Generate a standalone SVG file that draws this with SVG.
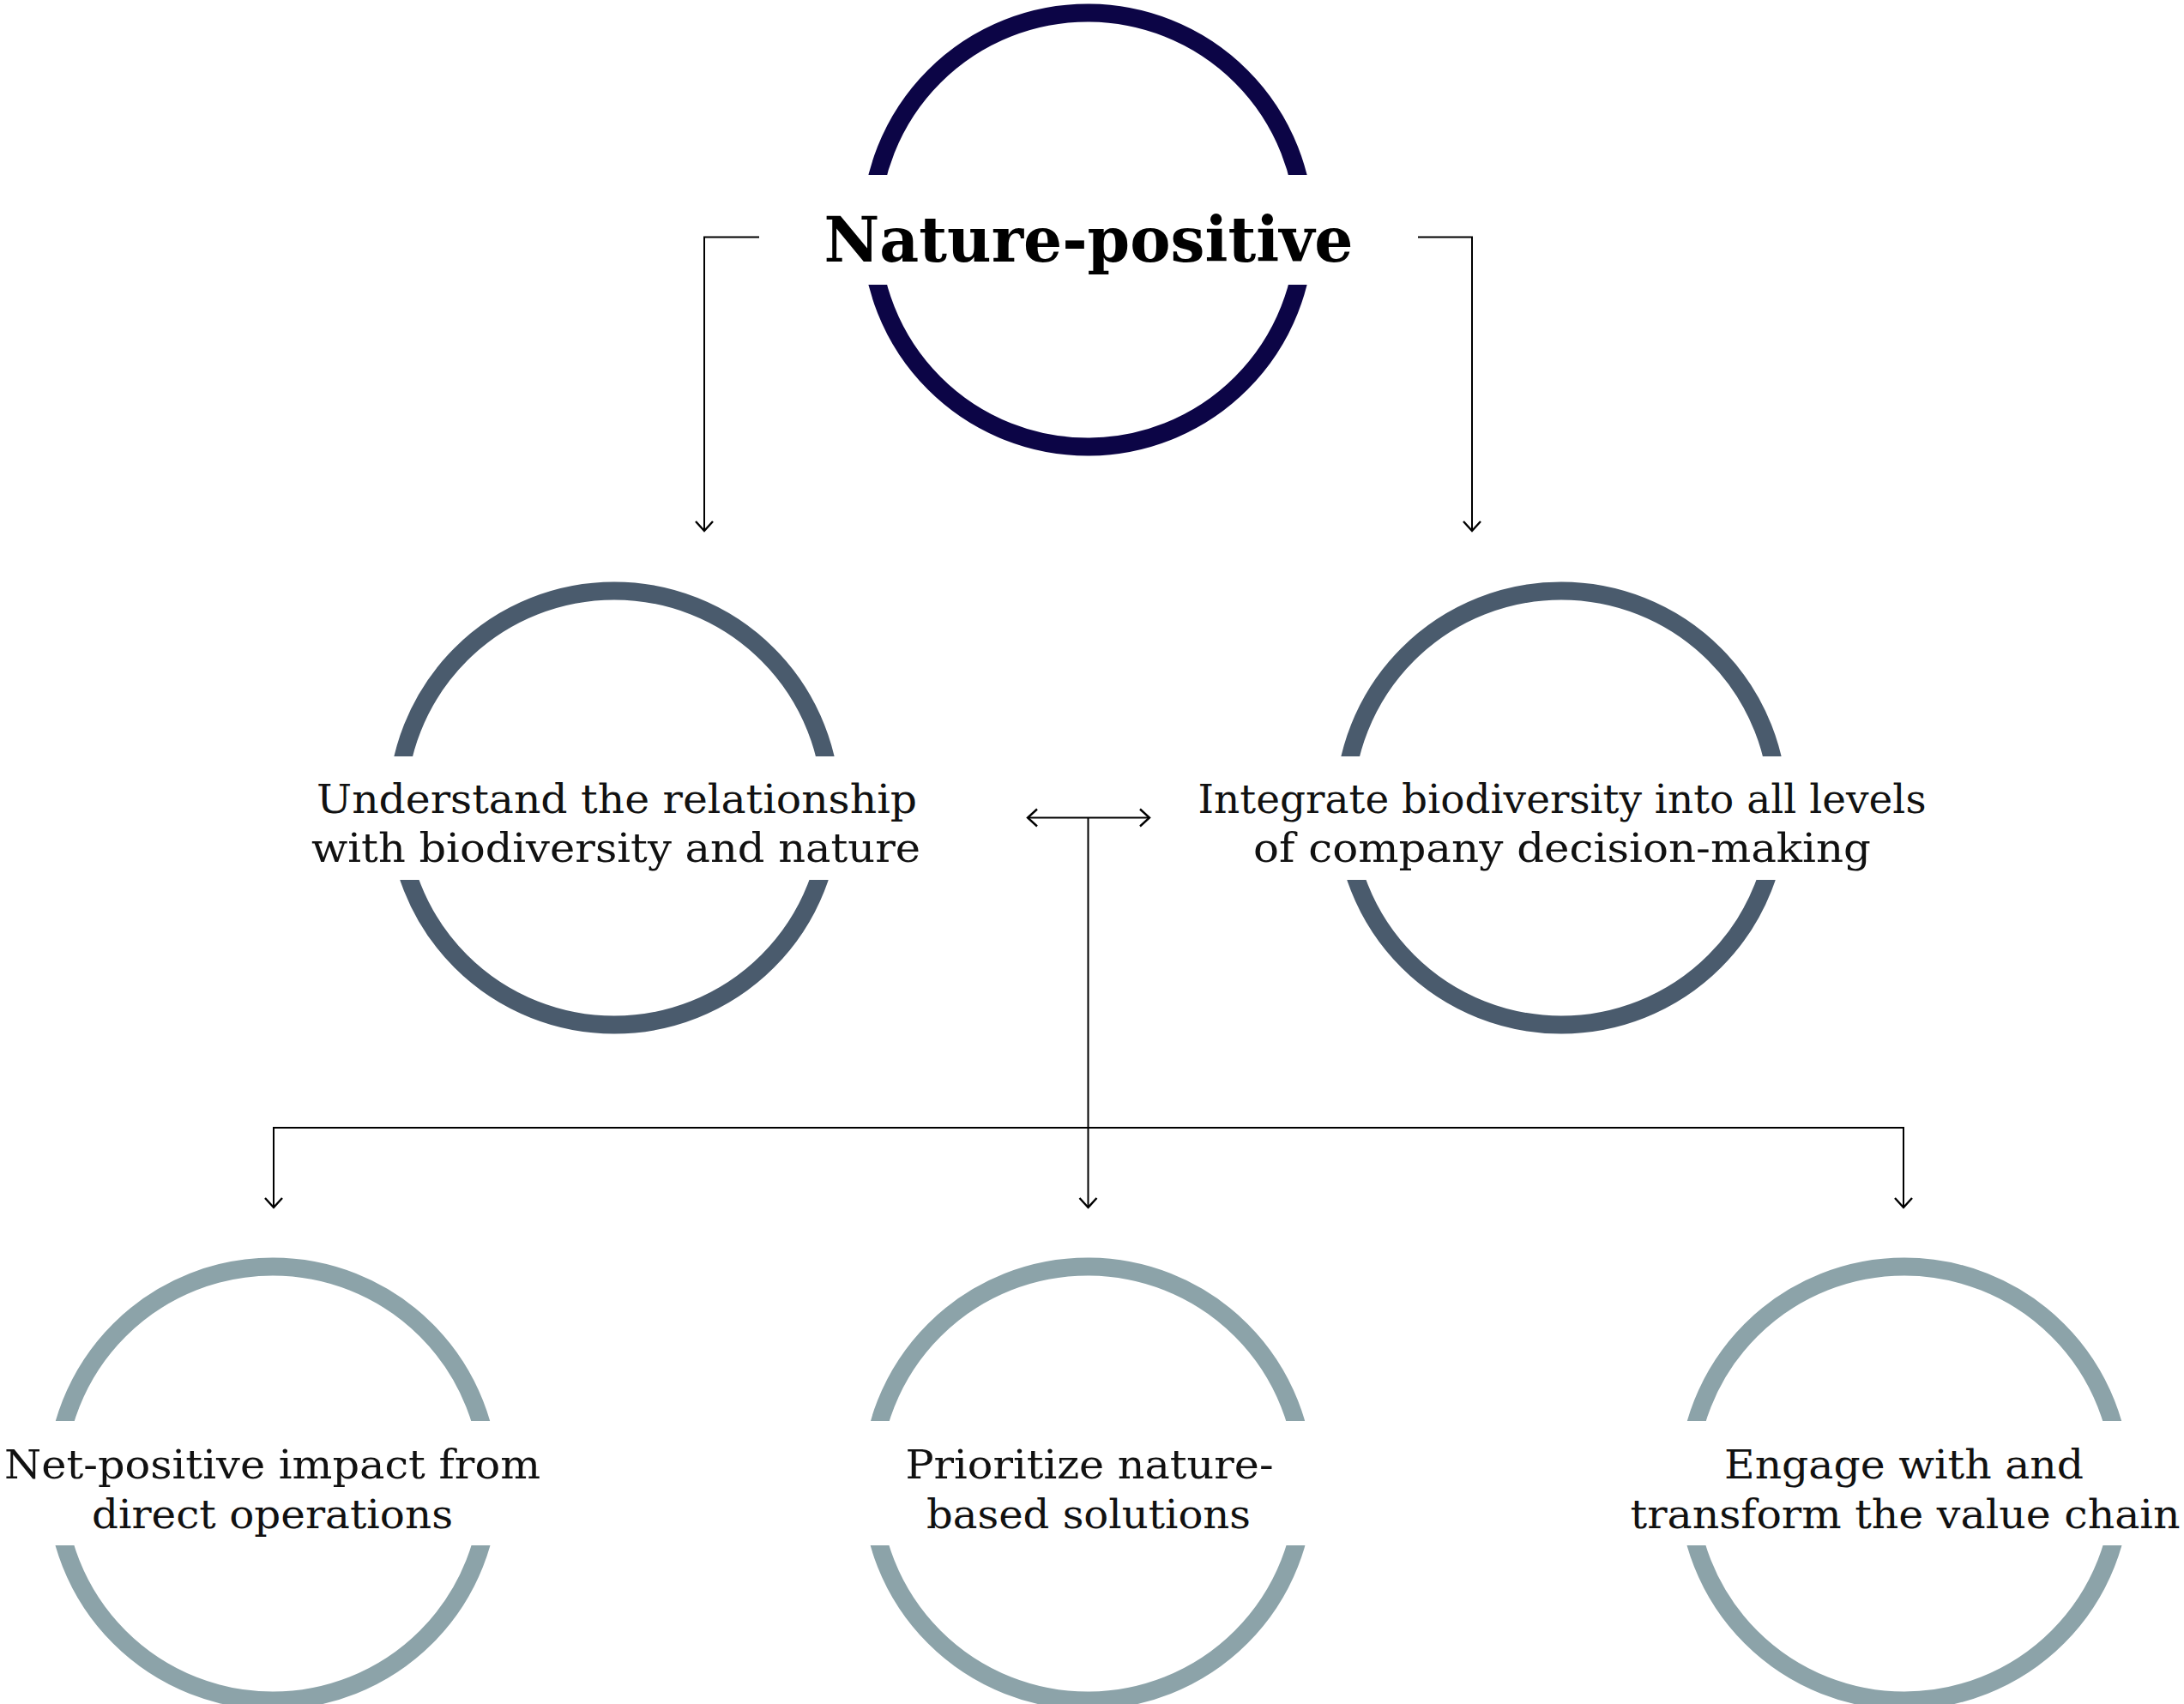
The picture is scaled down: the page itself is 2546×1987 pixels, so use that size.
<svg xmlns="http://www.w3.org/2000/svg" width="2546" height="1987" viewBox="0 0 2546 1987">
<style>
.ring{fill:none;stroke-width:21}
.top{stroke:#0c0546}
.mid{stroke:#4a5b6d}
.bot{stroke:#8ca3a9}
.gap{fill:#ffffff}
.lbl{font-family:"DejaVu Serif","Liberation Serif",serif;font-size:47px;fill:#111111;text-anchor:middle}
.title{font-family:"DejaVu Serif","Liberation Serif",serif;font-size:72px;font-weight:bold;fill:#000000;text-anchor:middle}
.conn{fill:none;stroke:#000000;stroke-width:2}
</style>
<defs>
<marker id="arr" viewBox="-14 -14 28 28" markerWidth="28" markerHeight="28" refX="0" refY="0" orient="auto-start-reverse" markerUnits="userSpaceOnUse">
<path d="M-11,-10 L0,0 L-11,10" fill="none" stroke="#000000" stroke-width="2.4"/>
</marker>
</defs>
<rect x="0" y="0" width="2546" height="1987" fill="#ffffff"/>
<g id="node-nature-positive">
<circle class="ring top" cx="1268" cy="268" r="253"/>
<rect class="gap" x="980" y="204" width="580" height="128"/>
<text class="title" x="1269" y="305" textLength="617" lengthAdjust="spacingAndGlyphs">Nature-positive</text>
</g>
<g id="node-understand">
<circle class="ring mid" cx="716" cy="942" r="253"/>
<rect class="gap" x="430" y="882" width="572" height="144"/>
<text class="lbl" x="719" y="948" textLength="700" lengthAdjust="spacingAndGlyphs">Understand the relationship</text>
<text class="lbl" x="718" y="1005" textLength="710" lengthAdjust="spacingAndGlyphs">with biodiversity and nature</text>
</g>
<g id="node-integrate">
<circle class="ring mid" cx="1820" cy="942" r="253"/>
<rect class="gap" x="1534" y="882" width="572" height="144"/>
<text class="lbl" x="1821" y="948" textLength="849" lengthAdjust="spacingAndGlyphs">Integrate biodiversity into all levels</text>
<text class="lbl" x="1821" y="1005" textLength="720" lengthAdjust="spacingAndGlyphs">of company decision-making</text>
</g>
<g id="node-net-positive">
<circle class="ring bot" cx="318" cy="1730" r="253"/>
<rect class="gap" x="32" y="1657" width="572" height="145"/>
<text class="lbl" x="317.5" y="1723.5" textLength="625" lengthAdjust="spacingAndGlyphs">Net-positive impact from</text>
<text class="lbl" x="317.5" y="1781.5" textLength="421" lengthAdjust="spacingAndGlyphs">direct operations</text>
</g>
<g id="node-prioritize">
<circle class="ring bot" cx="1268" cy="1730" r="253"/>
<rect class="gap" x="982" y="1657" width="572" height="145"/>
<text class="lbl" x="1270" y="1723.5" textLength="429" lengthAdjust="spacingAndGlyphs">Prioritize nature-</text>
<text class="lbl" x="1269" y="1781.5" textLength="378" lengthAdjust="spacingAndGlyphs">based solutions</text>
</g>
<g id="node-engage">
<circle class="ring bot" cx="2220" cy="1730" r="253"/>
<rect class="gap" x="1934" y="1657" width="572" height="145"/>
<text class="lbl" x="2219.5" y="1723.5" textLength="419" lengthAdjust="spacingAndGlyphs">Engage with and</text>
<text class="lbl" x="2221" y="1781.5" textLength="641" lengthAdjust="spacingAndGlyphs">transform the value chain</text>
</g>
<g id="connectors">
<path class="conn" d="M885,276.5 H821 V619" marker-end="url(#arr)"/>
<path class="conn" d="M1653,276.5 H1716 V619" marker-end="url(#arr)"/>
<path class="conn" d="M1198,953.5 H1340" marker-start="url(#arr)" marker-end="url(#arr)"/>
<path class="conn" d="M1268.5,953.5 V1408" marker-end="url(#arr)"/>
<path class="conn" d="M319,1408 V1315 H2219 V1408" marker-end="url(#arr)"/>
<path class="conn" d="M319,1315 V1408" marker-end="url(#arr)"/>
</g>
</svg>
